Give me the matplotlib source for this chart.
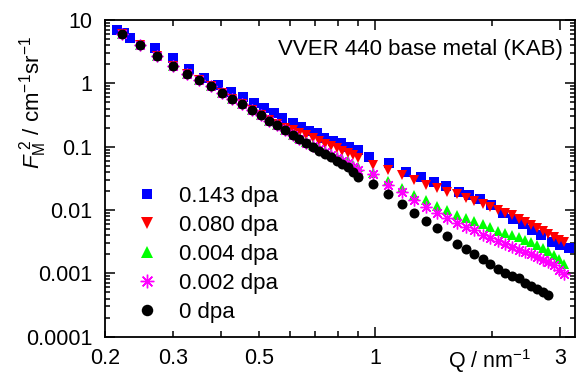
import matplotlib
matplotlib.use("Agg")
import matplotlib.pyplot as plt
from matplotlib.ticker import FixedLocator, FuncFormatter, LogLocator, NullFormatter

plt.rcParams['font.family'] = ['Liberation Sans', 'DejaVu Sans']
plt.rcParams['mathtext.fontset'] = 'custom'
plt.rcParams['mathtext.rm'] = 'Liberation Sans'
plt.rcParams['mathtext.it'] = 'Liberation Sans:italic'

# Q grids (nm^-1): low-Q and high-Q detector settings
q_lo = [0.221, 0.246, 0.272, 0.299, 0.325, 0.350, 0.376, 0.402, 0.427, 0.453,
        0.479, 0.506, 0.532, 0.558, 0.585, 0.611, 0.636, 0.661, 0.688, 0.716,
        0.742, 0.768, 0.794, 0.820, 0.848, 0.874, 0.900]
q_hi = [0.988, 1.078, 1.169, 1.259, 1.350, 1.440, 1.531, 1.621, 1.712, 1.802,
        1.893, 1.983, 2.074, 2.164, 2.255, 2.345, 2.436, 2.526, 2.617, 2.707,
        2.797, 2.887, 2.978, 3.068]
q_143 = [0.215, 0.224, 0.232, 0.269, 0.300, 0.330, 0.361, 0.393, 0.423, 0.455,
         0.486, 0.516, 0.547, 0.575, 0.611, 0.642, 0.674, 0.705, 0.738, 0.775,
         0.815, 0.856, 0.900,
         0.965, 1.081, 1.201, 1.308, 1.416, 1.525, 1.641, 1.741, 1.860, 1.994,
         2.137, 2.268, 2.408, 2.543, 2.687, 2.852, 2.996, 3.168]

# F_M^2 (cm^-1 sr^-1)
f_143 = [6.95, 6.17, 5.25, 3.57, 2.48, 1.68, 1.226, 0.940, 0.737, 0.600,
         0.494, 0.403, 0.336, 0.280, 0.2385, 0.2063, 0.1783, 0.1622, 0.1352, 0.1240,
         0.1128, 0.0975, 0.0884,
         0.0692, 0.0545, 0.0401, 0.0335, 0.0279, 0.0238, 0.01939, 0.01719, 0.01487, 0.01195,
         0.00893, 0.00718, 0.00599, 0.00490, 0.00401, 0.00315, 0.00279, 0.00247]

f_080_lo = [5.94, 4.03, 2.70, 1.90, 1.39, 1.115, 0.906, 0.703, 0.559, 0.471,
            0.379, 0.312, 0.2632, 0.2275, 0.2003, 0.1829, 0.1670, 0.1525, 0.1367, 0.1226,
            0.1119, 0.1022, 0.0950, 0.0868, 0.0807, 0.0737, 0.0673]
f_080_hi = [0.05214, 0.04347, 0.03558, 0.02935, 0.02491, 0.02202, 0.01960, 0.01784,
            0.01558, 0.01382, 0.01248, 0.01111, 0.00996, 0.00910, 0.00831, 0.00731,
            0.00656, 0.00588, 0.00527, 0.00473, 0.00424, 0.00380, 0.00341, 0.00311]

f_004_lo = [5.94, 4.03, 2.70, 1.90, 1.39, 1.115, 0.906, 0.703, 0.559, 0.471,
            0.379, 0.312, 0.2566, 0.217, 0.183, 0.1553, 0.1352, 0.1191, 0.1072, 0.0943,
            0.0852, 0.0770, 0.0692, 0.0637, 0.0588, 0.0521, 0.0485]
f_004_hi = [0.03898, 0.02914, 0.02259, 0.01732, 0.01444, 0.01144, 0.01015, 0.00837,
            0.00737, 0.00668, 0.00594, 0.00531, 0.00473, 0.00435, 0.00404, 0.00370,
            0.00335, 0.00309, 0.00276, 0.00255, 0.00227, 0.00197, 0.00171, 0.00140]

f_002_lo = [5.94, 4.03, 2.70, 1.90, 1.39, 1.115, 0.906, 0.703, 0.559, 0.471,
            0.379, 0.312, 0.2566, 0.217, 0.183, 0.1525, 0.130, 0.1148, 0.1033, 0.0910,
            0.0822, 0.0729, 0.0656, 0.0592, 0.0547, 0.0476, 0.0435]
f_002_hi = [0.03692, 0.02473, 0.01931, 0.01444, 0.01127, 0.00910, 0.00745, 0.00621,
            0.00547, 0.00481, 0.00404, 0.00360, 0.00323, 0.00289, 0.00259, 0.00237,
            0.00218, 0.00199, 0.00180, 0.00165, 0.00151, 0.00137, 0.00114, 0.000971]

f_000_lo = [5.94, 4.03, 2.70, 1.90, 1.39, 1.115, 0.906, 0.703, 0.559, 0.471,
            0.379, 0.312, 0.2566, 0.217, 0.183, 0.1525, 0.130, 0.1127, 0.0996, 0.0861,
            0.0764, 0.0678, 0.0598, 0.0531, 0.0481, 0.0404, 0.0337]
f_000_hi = [0.02538, 0.01782, 0.01240, 0.00903, 0.00675, 0.00512, 0.00391, 0.00289,
            0.00241, 0.00201, 0.00166, 0.001398, 0.001152, 0.001007, 0.000903, 0.000831,
            0.000713, 0.000628, 0.000563, 0.000505, 0.000453]

labels = ['0.143 dpa', '0.080 dpa', '0.004 dpa', '0.002 dpa', '0 dpa']

fig = plt.figure(figsize=(5.82, 3.74), dpi=100)
ax = fig.add_axes([105 / 582, 1 - 336.7 / 374, 470 / 582, 316.7 / 374])

# series, drawn in legend order so black ends up on top
ax.plot(q_143, f_143, ls='none', marker='s', ms=6.8, mew=0, color='#0000ff', label=labels[0])
ax.plot(q_lo + q_hi, f_080_lo + f_080_hi, ls='none', marker='v', ms=7.8, mew=0,
        color='#ff0000', label=labels[1])
ax.plot(q_lo + q_hi, f_004_lo + f_004_hi, ls='none', marker='^', ms=7.8, mew=0,
        color='#00ff00', label=labels[2])
ax.plot(q_lo + q_hi, f_002_lo + f_002_hi, ls='none', marker=(8, 2, 0), ms=8.5, mew=1,
        color='#ff00ff', label=labels[3])
ax.plot(q_lo + q_hi[:len(f_000_hi)], f_000_lo + f_000_hi, ls='none', marker='o', ms=7.2,
        mew=0, color='black', label=labels[4])

ax.set_xscale('log')
ax.set_yscale('log')
ax.set_xlim(0.2, 3.28)
ax.set_ylim(1e-4, 10)

# x ticks: long at 1 and 3, labels at 0.2, 0.3, 0.5, 1, 3
ax.xaxis.set_major_locator(FixedLocator([1, 3]))
ax.xaxis.set_minor_locator(FixedLocator([0.2, 0.3, 0.4, 0.5, 0.6, 0.7, 0.8, 0.9, 2]))
ax.xaxis.set_major_formatter(FuncFormatter(lambda v, p: f'{v:g}'))
ax.xaxis.set_minor_formatter(FuncFormatter(
    lambda v, p: f'{v:g}' if round(v, 2) in (0.2, 0.3, 0.5) else ''))

ax.yaxis.set_major_locator(LogLocator(base=10, numticks=10))
ax.yaxis.set_minor_locator(LogLocator(base=10, subs=range(2, 10), numticks=10))
ax.yaxis.set_major_formatter(FuncFormatter(lambda v, p: f'{v:g}'))
ax.yaxis.set_minor_formatter(NullFormatter())

ax.tick_params(which='both', direction='in', top=True, right=True, width=1.1,
               labelsize=15.5)
ax.tick_params(axis='y', which='major', length=7, pad=9)
ax.tick_params(axis='y', which='minor', length=3.8)
ax.tick_params(axis='x', which='major', length=7, pad=8)
ax.tick_params(axis='x', which='minor', length=4.3, pad=8)
for s in ax.spines.values():
    s.set_linewidth(1.3)

# axis labels
fig.text(33 / 582, 1 - 103 / 374, r'$F_{\mathrm{M}}^{\ 2}$ / cm$^{-1}$sr$^{-1}$',
         rotation=90, ha='center', va='center', fontsize=16)
fig.text(448 / 582, 1 - 368 / 374, r'$\mathrm{Q}$ / nm$^{-1}$', ha='left', va='baseline',
         fontsize=15.5)

ax.text(0.975, 0.8895, 'VVER 440 base metal (KAB)', transform=ax.transAxes,
        ha='right', va='baseline', fontsize=16)

ax.legend(loc='center left', bbox_to_anchor=(0.066, 0.26), frameon=False,
          fontsize=16, numpoints=1, handlelength=1, handletextpad=0.92,
          labelspacing=0.36, borderaxespad=0, borderpad=0, markerscale=1.15)

fig.savefig('out.png', dpi=100)
